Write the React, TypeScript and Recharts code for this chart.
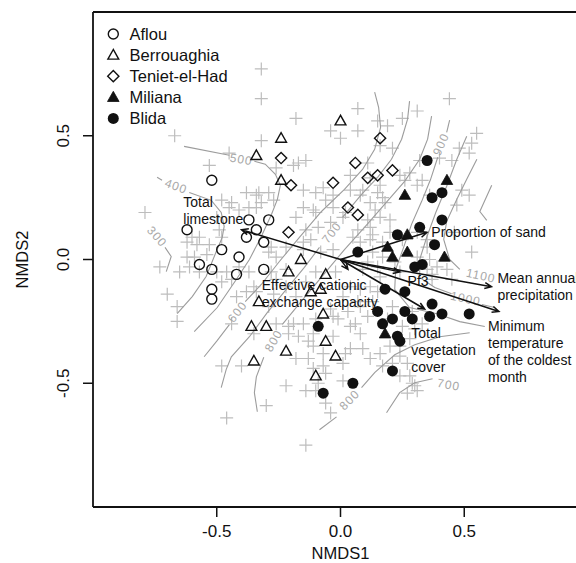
import React from 'react';
import { ScatterChart, Scatter, XAxis, YAxis, ReferenceLine } from 'recharts';

const FONT = '"Liberation Sans", Arial, Helvetica, sans-serif';

type P = [number, number];

// ---- Site scores (NMDS1, NMDS2) ----
const siteNames = ['Aflou', 'Berrouaghia', 'Teniet-el-Had', 'Miliana', 'Blida'];

const aflou: P[] = [
  [-0.52, 0.32], [-0.62, 0.12], [-0.37, 0.16], [-0.34, 0.12], [-0.38, 0.09],
  [-0.29, 0.16], [-0.31, 0.07], [-0.48, 0.04], [-0.41, 0.01], [-0.57, -0.02],
  [-0.52, -0.04], [-0.42, -0.06], [-0.31, -0.04], [-0.52, -0.12], [-0.52, -0.16],
];
const berrouaghia: P[] = [
  [-0.24, 0.49], [0.0, 0.56], [-0.34, 0.42], [-0.24, 0.32], [-0.16, 0.0],
  [-0.21, -0.05], [-0.06, -0.06], [-0.08, -0.12], [-0.12, -0.13], [-0.33, -0.17],
  [-0.07, -0.22], [-0.36, -0.27], [-0.3, -0.27], [-0.06, -0.33], [-0.22, -0.37],
  [-0.02, -0.39], [-0.35, -0.41], [-0.1, -0.47],
];
const tenietElHad: P[] = [
  [0.16, 0.49], [-0.24, 0.41], [0.06, 0.39], [-0.03, 0.31], [0.11, 0.33],
  [0.15, 0.34], [0.21, 0.36], [-0.2, 0.3], [0.03, 0.21], [0.07, 0.18], [-0.21, 0.11],
];
const miliana: P[] = [
  [0.43, 0.32], [0.26, 0.26], [0.19, 0.05], [0.21, 0.01], [0.27, 0.03],
  [0.42, 0.01], [0.18, -0.3], [0.27, 0.1],
];
const blida: P[] = [
  [0.35, 0.4], [0.41, 0.27], [0.37, 0.25], [0.41, 0.16], [0.23, 0.1],
  [0.32, 0.13], [0.38, 0.06], [0.07, 0.03], [0.33, -0.02], [0.3, -0.03],
  [0.18, -0.12], [0.26, -0.13], [0.37, -0.18], [0.15, -0.21], [0.26, -0.21],
  [0.41, -0.22], [0.52, -0.22], [0.36, -0.23], [0.29, -0.24], [0.21, -0.24],
  [0.17, -0.26], [-0.09, -0.27], [0.23, -0.31], [0.24, -0.33], [0.21, -0.45],
  [0.05, -0.5], [-0.07, -0.54],
];

// ---- Species scores (grey crosses) ----
const species: P[] = [
  [-0.32, 0.77], [-0.32, 0.65], [-0.18, 0.57], [-0.67, 0.5], [-0.32, 0.48], [-0.45, 0.43], [-0.53, 0.38], [-0.26, 0.37], [-0.17, 0.39], [-0.14, 0.4],
  [0.07, 0.61], [-0.04, 0.52], [0.0, 0.49], [0.07, 0.52], [0.15, 0.56], [0.19, 0.54], [0.25, 0.57], [0.31, 0.6], [0.44, 0.65], [0.16, 0.46],
  [0.21, 0.45], [0.55, 0.51], [0.53, 0.47], [0.48, 0.45], [0.52, 0.43], [-0.19, 0.38], [0.11, 0.39], [0.32, 0.4], [0.4, 0.41], [0.45, 0.4],
  [0.28, 0.35], [0.26, 0.32], [0.33, 0.32], [0.04, 0.34], [0.09, 0.28], [-0.15, 0.28], [-0.1, 0.27], [-0.07, 0.29], [0.15, 0.27], [0.52, 0.26],
  [0.36, 0.26], [0.47, 0.22], [0.04, 0.28], [0.12, 0.33], [0.16, 0.3], [0.24, 0.34], [0.31, 0.3], [0.49, 0.28],
  [-0.79, 0.19], [-0.48, 0.24], [-0.44, 0.23], [-0.41, 0.2], [-0.37, 0.21], [-0.32, 0.23], [-0.27, 0.24], [-0.34, 0.26], [-0.38, 0.27], [-0.33, 0.27],
  [-0.29, 0.27], [-0.6, 0.09], [-0.57, 0.09], [-0.62, 0.07], [-0.58, 0.06], [-0.53, 0.06], [-0.48, 0.09], [-0.49, 0.12], [-0.28, 0.05],
  [-0.26, 0.01], [-0.54, 0.02], [-0.62, 0.01], [-0.59, 0.01], [-0.73, -0.03], [-0.65, -0.05], [-0.61, -0.03], [-0.57, -0.05], [-0.5, -0.05], [-0.46, -0.05],
  [-0.41, -0.03], [-0.37, -0.05], [-0.28, -0.05], [-0.5, 0.17], [-0.45, 0.21], [-0.34, 0.21], [-0.18, 0.17], [-0.29, 0.03], [-0.22, 0.05], [-0.15, 0.07],
  [-0.1, 0.19], [-0.03, 0.21], [0.02, 0.19], [-0.09, 0.13], [-0.04, 0.15], [0.05, 0.09], [0.12, 0.13], [0.14, 0.2], [0.18, 0.23],
  [0.2, 0.16], [0.08, 0.26], [0.12, 0.08], [0.17, 0.01], [0.22, -0.01], [0.25, 0.08], [0.31, 0.11], [0.35, 0.08], [-0.12, 0.08], [-0.15, 0.04],
  [-0.08, 0.03], [-0.03, 0.04], [-0.22, -0.04], [-0.1, -0.05], [-0.02, -0.05], [0.09, -0.04], [0.15, -0.03], [0.16, -0.07], [-0.15, 0.21], [-0.11, 0.2],
  [-0.06, 0.24], [-0.03, 0.26], [0.17, 0.25], [0.12, 0.23], [0.16, 0.17], [0.11, 0.16], [0.01, 0.17], [-0.14, 0.12], [0.07, 0.12], [0.13, 0.1],
  [0.17, 0.07], [0.2, 0.11], [0.13, 0.03], [0.08, 0.07], [0.11, -0.01], [0.24, -0.05], [0.31, 0.01], [0.36, 0.0], [0.39, -0.03], [0.43, -0.04],
  [0.37, -0.06], [0.53, 0.03], [0.46, 0.11], [0.35, 0.05], [0.35, -0.04], [0.37, -0.08], [0.45, -0.08],
  [-0.44, -0.08], [-0.38, -0.13], [-0.42, -0.15], [-0.35, -0.11], [-0.29, -0.19], [-0.27, -0.14], [-0.22, -0.11], [-0.18, -0.15], [-0.21, -0.27], [-0.17, -0.31],
  [-0.26, -0.08], [-0.14, -0.09], [-0.26, -0.26], [-0.15, -0.26], [-0.11, -0.35], [-0.13, -0.4], [-0.18, -0.4], [-0.48, -0.09], [-0.34, -0.13], [-0.44, -0.26],
  [-0.48, -0.43], [-0.4, -0.43], [-0.35, -0.3], [-0.22, -0.51], [-0.3, -0.59], [-0.46, -0.64], [-0.7, -0.14], [-0.66, -0.19], [-0.66, -0.25], [-0.14, -0.75],
  [-0.1, -0.53], [-0.07, -0.43], [0.04, -0.11], [0.08, -0.12], [0.12, -0.11], [0.15, -0.13], [0.01, -0.15], [0.07, -0.17], [0.03, -0.21], [-0.04, -0.2],
  [-0.01, -0.24], [0.04, -0.27], [0.08, -0.3], [-0.1, -0.24], [-0.11, -0.3], [-0.03, -0.31], [0.02, -0.38], [0.09, -0.36], [-0.07, -0.38], [0.21, -0.19],
  [0.29, -0.21], [0.33, -0.26], [0.3, -0.28], [0.25, -0.27], [0.19, -0.24], [0.28, -0.32], [0.24, -0.39], [0.17, -0.43], [0.12, -0.4], [-0.19, -0.26],
  [-0.21, -0.3], [-0.13, -0.33], [0.04, -0.36], [0.01, -0.42], [-0.11, -0.44], [-0.06, -0.46], [-0.09, -0.5], [-0.14, -0.53], [-0.04, -0.62], [0.16, -0.38],
  [0.2, -0.35], [0.24, -0.35], [0.21, -0.42], [0.24, -0.47], [0.29, -0.5], [0.27, -0.54], [0.06, -0.26], [0.11, -0.23], [-0.03, -0.23], [0.13, -0.17],
  [0.08, -0.19], [-0.06, -0.58], [0.01, -0.49], [0.27, -0.42], [0.3, -0.51], [0.31, -0.53], [0.28, -0.47],
];

// ---- Fitted surface (contour lines of mean annual precipitation) ----
const contourLines: P[][] = [
  [[-0.709, 0.049], [-0.684, 0.012], [-0.704, -0.049]],
  [[-0.741, 0.332], [-0.721, 0.32]],
  [[-0.611, 0.271], [-0.522, 0.239], [-0.482, 0.19], [-0.47, 0.134], [-0.478, 0.089], [-0.502, 0.032], [-0.543, -0.069], [-0.599, -0.15], [-0.66, -0.219]],
  [[-0.632, 0.457], [-0.449, 0.421]],
  [[-0.348, 0.397], [-0.304, 0.385], [-0.263, 0.344], [-0.243, 0.3], [-0.255, 0.243], [-0.279, 0.182], [-0.32, 0.093], [-0.368, 0.0], [-0.421, -0.081], [-0.498, -0.194], [-0.591, -0.291]],
  [[-0.551, -0.393], [-0.5, -0.33], [-0.449, -0.263]],
  [[-0.385, -0.17], [-0.32, -0.101], [-0.247, -0.008], [-0.166, 0.089], [-0.077, 0.194], [0.016, 0.283], [0.089, 0.364], [0.138, 0.445], [0.162, 0.534], [0.154, 0.615], [0.138, 0.676]],
  [[-0.482, -0.518], [-0.462, -0.445], [-0.441, -0.393], [-0.368, -0.312], [-0.296, -0.215], [-0.219, -0.121], [-0.146, -0.032], [-0.085, 0.049]],
  [[0.008, 0.17], [0.085, 0.263], [0.15, 0.332], [0.206, 0.405], [0.247, 0.486], [0.271, 0.567], [0.279, 0.64]],
  [[-0.336, -0.615], [-0.348, -0.538], [-0.34, -0.474], [-0.31, -0.395]],
  [[-0.235, -0.262], [-0.146, -0.154], [-0.065, -0.057], [0.016, 0.04], [0.097, 0.13], [0.178, 0.223], [0.259, 0.316], [0.32, 0.405], [0.352, 0.486], [0.368, 0.579]],
  [[0.441, 0.563], [0.429, 0.514]],
  [[0.393, 0.413], [0.364, 0.324], [0.328, 0.235], [0.287, 0.142], [0.255, 0.049], [0.223, -0.04], [0.219, -0.121], [0.279, -0.194], [0.389, -0.219], [0.482, -0.251], [0.583, -0.271]],
  [[0.51, 0.498], [0.47, 0.405], [0.429, 0.296], [0.385, 0.19], [0.348, 0.089], [0.32, 0.0], [0.32, -0.073], [0.381, -0.113], [0.449, -0.138]],
  [[0.571, -0.182], [0.623, -0.194]],
  [[0.551, 0.405], [0.51, 0.324], [0.47, 0.243], [0.429, 0.154], [0.417, 0.081], [0.441, 0.0], [0.482, -0.04]],
  [[0.611, 0.3], [0.563, 0.194], [0.591, 0.158]],
  [[-0.085, -0.688], [-0.016, -0.636]],
  [[0.085, -0.518], [0.138, -0.457], [0.219, -0.385], [0.3, -0.344], [0.401, -0.312], [0.522, -0.296]],
  [[0.186, -0.619], [0.239, -0.538], [0.3, -0.498], [0.372, -0.482]],
];
const contourLabelText = ['300', '400', '500', '600', '700', '800', '900', '1000', '1100', '800', '700'];
const contourLabelX = [-0.741, -0.664, -0.401, -0.417, -0.036, -0.271, 0.405, 0.506, 0.567, 0.036, 0.437];
const contourLabelY = [0.093, 0.296, 0.405, -0.211, 0.109, -0.328, 0.466, -0.158, -0.065, -0.567, -0.506];
const contourLabelAngle = [48, 20, 10, -52, -52, -60, -66, 12, 12, -45, 10];

// ---- Environmental vectors (envfit arrows) ----
const arrowX = [-0.4, 0.35, 0.61, 0.64, 0.34, 0.24, 0.03];
const arrowY = [0.12, 0.11, -0.11, -0.21, -0.2, -0.05, -0.04];
const arrowLabelLines = [
  ['Total', 'limestone'],
  ['Proportion of sand'],
  ['Mean annual', 'precipitation'],
  ['Minimum', 'temperature', 'of the coldest', 'month'],
  ['Total', 'vegetation', 'cover'],
  ['Pf3'],
  ['Effective cationic', 'exchange capacity'],
];
const arrowLabelX = [-0.635, 0.367, 0.634, 0.596, 0.286, 0.271, -0.318];
const arrowLabelY = [0.232, 0.112, -0.074, -0.27, -0.297, -0.089, -0.105];

const axisTicks = [-0.5, 0, 0.5];

// ---- helpers ----
const toPts = (a: P[]) => a.map(([x, y]) => ({ x, y }));

const arrowPolyline = (tx: number, ty: number) => {
  const th = Math.atan2(ty, tx);
  const L = 0.03;
  const a = 0.42;
  return [
    { x: 0, y: 0 },
    { x: tx, y: ty },
    { x: tx - L * Math.cos(th - a), y: ty - L * Math.sin(th - a) },
    { x: tx, y: ty },
    { x: tx - L * Math.cos(th + a), y: ty - L * Math.sin(th + a) },
  ];
};

const INK = '#111';
const noShape = () => <g />;

const plusShape = (p: any) => (
  <path d={`M${p.cx - 6.5},${p.cy}H${p.cx + 6.5}M${p.cx},${p.cy - 6.5}V${p.cy + 6.5}`} stroke="#bdbdbd" strokeWidth={1.2} fill="none" />
);

const symbol = (i: number, cx: number, cy: number) => {
  switch (i) {
    case 0:
      return <circle cx={cx} cy={cy} r={5} fill="none" stroke={INK} strokeWidth={1.4} />;
    case 1:
      return <polygon points={`${cx},${cy - 5.6} ${cx - 5.4},${cy + 4} ${cx + 5.4},${cy + 4}`} fill="none" stroke={INK} strokeWidth={1.4} />;
    case 2:
      return <polygon points={`${cx},${cy - 5.6} ${cx + 5.6},${cy} ${cx},${cy + 5.6} ${cx - 5.6},${cy}`} fill="none" stroke={INK} strokeWidth={1.4} />;
    case 3:
      return <polygon points={`${cx},${cy - 6} ${cx - 5.8},${cy + 4.2} ${cx + 5.8},${cy + 4.2}`} fill={INK} stroke={INK} strokeWidth={0.8} />;
    default:
      return <circle cx={cx} cy={cy} r={5.5} fill={INK} />;
  }
};

const siteShape = (i: number) => (p: any) => symbol(i, p.cx, p.cy);

const textShape = (p: any) => {
  const lines: string[] = p.payload.lines;
  return (
    <text x={p.cx} y={p.cy} fontFamily={FONT} fontSize={14} fill={INK} textAnchor="start">
      {lines.map((l, i) => (
        <tspan key={i} x={p.cx} dy={i === 0 ? '0.35em' : 17}>{l}</tspan>
      ))}
    </text>
  );
};

const contourLabelShape = (p: any) => (
  <text
    x={p.cx}
    y={p.cy}
    transform={`rotate(${p.payload.angle} ${p.cx} ${p.cy})`}
    fontFamily={FONT}
    fontSize={12}
    fill="#a8a8a8"
    textAnchor="middle"
    dy="0.35em"
    letterSpacing={1}
  >
    {p.payload.text}
  </text>
);

const YTick = (p: any) => (
  <g transform={`translate(${p.x - 12},${p.y}) rotate(-90)`}>
    <text x={0} y={0} textAnchor="middle" fontFamily={FONT} fontSize={17} fill={INK}>
      {Number(p.payload.value).toFixed(1)}
    </text>
  </g>
);

const XLabel = (p: any) => {
  const vb = p.viewBox;
  return (
    <text x={vb.x + vb.width / 2} y={vb.y + 52} textAnchor="middle" fontFamily={FONT} fontSize={16.5} fill={INK}>
      NMDS1
    </text>
  );
};

const YLabel = (p: any) => {
  const vb = p.viewBox;
  const cx = 27.5;
  const cy = vb.y + vb.height / 2;
  return (
    <text x={cx} y={cy} transform={`rotate(-90 ${cx} ${cy})`} textAnchor="middle" fontFamily={FONT} fontSize={16.5} fill={INK}>
      NMDS2
    </text>
  );
};

export default function App() {
  const sites = [aflou, berrouaghia, tenietElHad, miliana, blida];
  const arrowLabels = arrowLabelLines.map((lines, i) => ({ x: arrowLabelX[i], y: arrowLabelY[i], lines }));
  const contourLabels = contourLabelText.map((text, i) => ({
    x: contourLabelX[i],
    y: contourLabelY[i],
    text,
    angle: contourLabelAngle[i],
  }));

  return (
    <div style={{ position: 'fixed', left: 0, top: 0, width: 576, height: 563, overflow: 'hidden', background: '#fff' }}>
      <ScatterChart width={620} height={563} margin={{ top: 12, right: 32, bottom: 0, left: 0 }}>
        <XAxis
          type="number"
          dataKey="x"
          domain={[-1, 1]}
          allowDataOverflow
          ticks={axisTicks}
          tickFormatter={(v: number) => v.toFixed(1)}
          tickSize={10}
          tickMargin={8}
          height={56}
          axisLine={{ stroke: INK, strokeWidth: 1.8 }}
          tickLine={{ stroke: INK, strokeWidth: 1.5 }}
          tick={{ fontSize: 17, fill: INK, fontFamily: FONT }}
          label={XLabel}
        />
        <YAxis
          type="number"
          dataKey="y"
          domain={[-1, 1]}
          allowDataOverflow
          ticks={axisTicks}
          tickSize={10}
          tickMargin={2}
          width={93}
          axisLine={{ stroke: INK, strokeWidth: 1.8 }}
          tickLine={{ stroke: INK, strokeWidth: 1.5 }}
          tick={<YTick />}
          label={YLabel}
        />
        <ReferenceLine y={1} stroke={INK} strokeWidth={1.8} ifOverflow="extendDomain" />

        <Scatter data={toPts(species)} shape={plusShape} isAnimationActive={false} />

        {contourLines.map((seg, i) => (
          <Scatter
            key={`c${i}`}
            data={toPts(seg)}
            line={{ stroke: '#9c9c9c', strokeWidth: 1.1 }}
            lineType="joint"
            shape={noShape}
            isAnimationActive={false}
          />
        ))}
        <Scatter data={contourLabels} shape={contourLabelShape} isAnimationActive={false} />

        {sites.map((s, i) => (
          <Scatter key={siteNames[i]} name={siteNames[i]} data={toPts(s)} shape={siteShape(i)} isAnimationActive={false} />
        ))}

        {arrowX.map((ax, i) => (
          <Scatter
            key={`a${i}`}
            data={arrowPolyline(ax, arrowY[i])}
            line={{ stroke: INK, strokeWidth: 1.5 }}
            lineType="joint"
            shape={noShape}
            isAnimationActive={false}
          />
        ))}
        <Scatter data={arrowLabels} shape={textShape} isAnimationActive={false} />
      </ScatterChart>

      <svg width={260} height={140} style={{ position: 'absolute', left: 0, top: 0 }}>
        {siteNames.map((n, i) => {
          const cy = 34 + i * 21.1;
          return (
            <g key={n}>
              {symbol(i, 113.3, cy)}
              <text x={129.5} y={cy} dy="0.35em" fontFamily={FONT} fontSize={16.5} fill={INK}>
                {n}
              </text>
            </g>
          );
        })}
      </svg>
    </div>
  );
}
